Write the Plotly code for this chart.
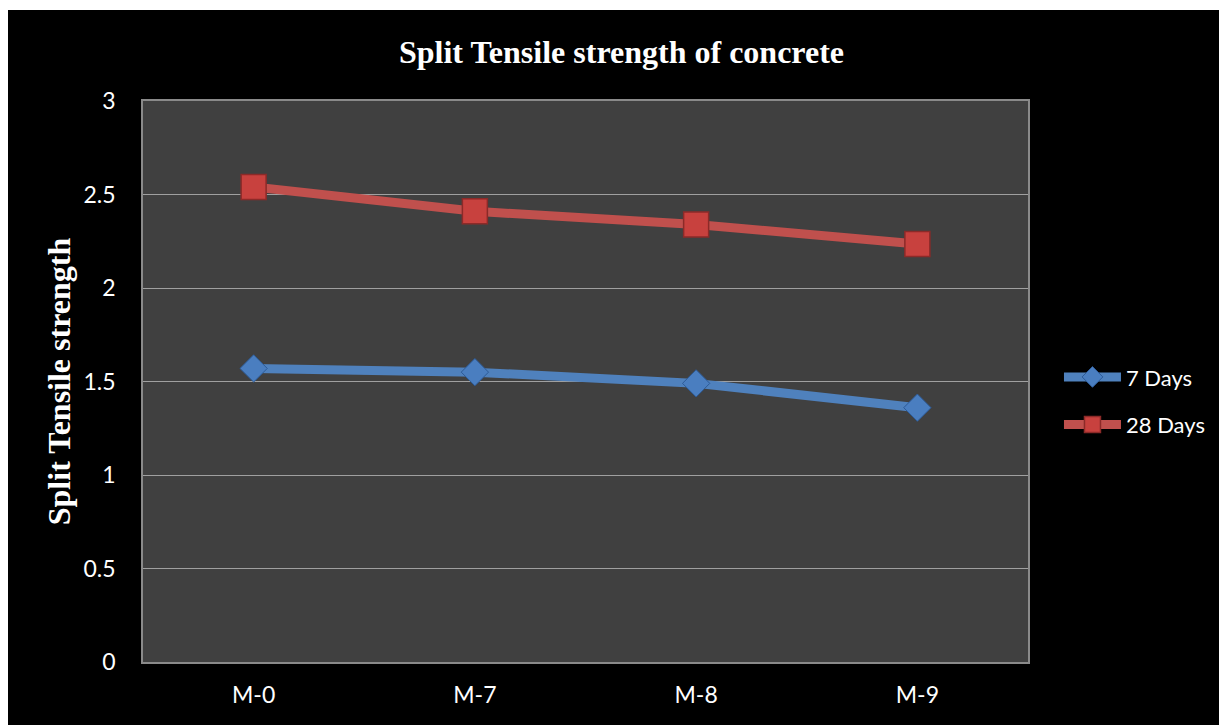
import plotly.graph_objects as go

categories = ["M-0", "M-7", "M-8", "M-9"]
days7 = [1.57, 1.55, 1.49, 1.36]
days28 = [2.54, 2.41, 2.34, 2.235]
y_ticks = [0, 0.5, 1, 1.5, 2, 2.5, 3]
y_labels = ["0", "0.5", "1", "1.5", "2", "2.5", "3"]

fig = go.Figure()
fig.add_trace(go.Scatter(
    x=categories, y=days7, name="7 Days", mode="lines+markers", legendgroup="a",
    line=dict(color="#4F81BD", width=9),
    marker=dict(symbol="diamond", size=21, color="#4A7EC0",
                line=dict(color="#2D5A96", width=1)),
))
fig.add_trace(go.Scatter(
    x=categories, y=days28, name="28 Days", mode="lines+markers", legendgroup="b",
    line=dict(color="#C0504D", width=9),
    marker=dict(symbol="square", size=25, color="#C8413E",
                line=dict(color="#8C2A28", width=1.5)),
))

fig.update_layout(
    width=1227, height=725,
    margin=dict(l=135, r=207, t=93, b=71),
    paper_bgcolor="#000000",
    plot_bgcolor="#404040",
    title=dict(text="<b>Split Tensile strength of concrete</b>",
               font=dict(family="Liberation Serif", size=32, color="white"),
               x=0.5, xanchor="center", y=0.939, yanchor="middle"),
    font=dict(family="Lato", color="white", size=23),
    showlegend=True,
    legend=dict(x=1.035, xanchor="left", y=0.465, yanchor="middle",
                font=dict(family="Lato", size=22, color="white"),
                traceorder="grouped", tracegroupgap=16,
                bgcolor="rgba(0,0,0,0)", itemwidth=57),
    xaxis=dict(type="category", range=[-0.5, 3.5], showgrid=False, showline=True,
               linecolor="#8a8a8a", linewidth=1.5, mirror=True, ticks="",
               ticklabelstandoff=12,
               tickfont=dict(family="Lato", size=23, color="white")),
    yaxis=dict(range=[0, 3], tickvals=y_ticks, ticktext=y_labels,
               showgrid=True, gridcolor="#a0a0a0", gridwidth=1,
               showline=True, linecolor="#8a8a8a", linewidth=1.5, mirror=True,
               zeroline=False, ticks="", ticklabelstandoff=21,
               tickfont=dict(family="Lato", size=23, color="white"),
               title=dict(text="<b>Split Tensile strength</b>", standoff=3,
                          font=dict(family="Liberation Serif", size=32, color="white"))),
    shapes=[
        dict(type="rect", xref="paper", yref="paper", x0=-0.3, x1=1.3, y0=1.162, y1=1.3,
             fillcolor="white", line=dict(width=0), layer="above"),
    ],
)

fig.write_html("out.html")
